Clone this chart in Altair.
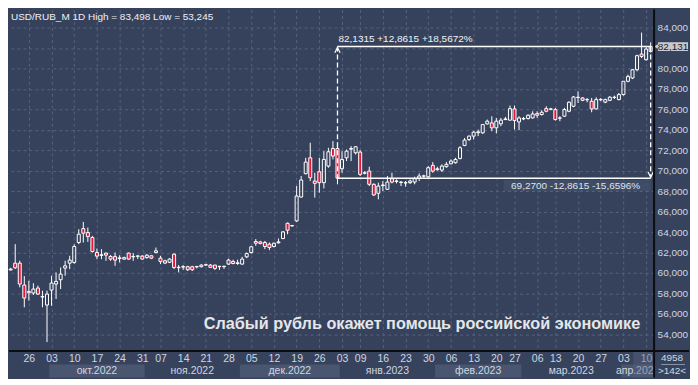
import altair as alt
import pandas as pd

# ---------------- data (trading-day index: -4 = 20.09.2022 ... 137 = 11.04.2023) ----------------
first_idx = -4
opens = [60.30, 60.96, 60.96, 58.82, 58.20, 58.04, 58.53, 57.65, 56.87, 58.33,
         58.92, 59.34, 60.48, 60.96, 61.03, 62.98, 64.34, 63.95, 63.47, 62.00,
         61.72, 61.94, 61.62, 61.60, 61.42, 61.36, 61.94, 61.58, 61.63, 61.65,
         61.52, 61.68, 62.00, 61.45, 60.97, 61.05, 61.84, 60.52, 60.58, 60.61,
         60.61, 60.60, 60.61, 60.78, 60.77, 60.77, 60.62, 60.62, 60.87, 61.13,
         60.93, 60.87, 61.58, 62.00, 63.08, 63.04, 62.98, 62.82, 62.59, 62.95,
         63.37, 64.86, 64.60, 65.09, 67.43, 69.71, 71.26, 68.99, 69.90, 68.83,
         70.45, 72.17, 72.17, 70.19, 71.26, 72.10, 71.75, 71.82, 69.75, 69.96,
         68.67, 67.79, 68.60, 68.18, 69.22, 69.00, 68.85, 68.80, 68.83, 68.89,
         69.25, 69.46, 69.41, 70.52, 70.10, 70.06, 70.39, 70.68, 70.78, 71.20,
         72.47, 73.05, 73.38, 73.80, 73.70, 74.58, 74.67, 74.19, 74.58, 75.00,
         74.94, 76.04, 74.77, 75.06, 75.10, 75.16, 75.58, 75.49, 76.07, 76.00,
         75.97, 75.13, 75.33, 75.81, 76.30, 77.15, 77.11, 76.93, 76.79, 76.04,
         76.93, 76.70, 76.88, 77.16, 76.95, 77.44, 78.74, 79.06, 79.87, 81.40,
         80.85, 81.66]
highs = [60.50, 62.82, 61.20, 59.70, 59.24, 59.00, 58.76, 58.27, 58.27, 59.73,
         60.06, 60.54, 61.19, 61.68, 62.80, 64.28, 64.99, 64.44, 63.63, 62.39,
         62.33, 62.00, 61.75, 62.00, 61.74, 61.60, 62.00, 61.94, 61.74, 61.74,
         61.84, 61.74, 62.49, 61.68, 61.30, 61.45, 61.90, 60.77, 60.77, 60.70,
         60.70, 60.70, 60.85, 60.90, 60.87, 60.80, 60.70, 60.70, 61.40, 61.30,
         61.30, 61.58, 62.00, 62.65, 63.32, 63.14, 63.14, 62.98, 62.98, 63.37,
         64.10, 64.93, 64.70, 68.50, 69.48, 71.26, 72.73, 69.80, 71.26, 71.91,
         72.24, 72.89, 72.73, 71.91, 72.07, 72.40, 72.40, 72.00, 69.96, 70.39,
         68.76, 68.83, 68.99, 69.48, 69.80, 69.15, 68.99, 68.99, 69.15, 69.41,
         69.74, 69.60, 70.45, 70.84, 70.39, 70.62, 70.84, 71.10, 71.26, 72.40,
         73.20, 73.44, 73.86, 74.02, 74.55, 75.00, 75.32, 75.16, 75.16, 75.26,
         76.37, 76.37, 75.32, 75.26, 75.50, 75.81, 75.81, 75.91, 76.30, 76.14,
         76.14, 75.33, 76.14, 76.79, 77.30, 77.76, 77.20, 77.11, 77.11, 77.18,
         77.10, 77.05, 77.30, 77.34, 77.60, 78.74, 79.39, 79.94, 81.34, 83.498,
         82.08, 82.54]
lows = [60.25, 60.40, 58.60, 56.65, 57.30, 57.85, 57.85, 56.65, 53.245, 56.80,
        57.46, 58.43, 59.73, 60.38, 60.90, 62.82, 62.98, 63.04, 62.00, 61.35,
        61.35, 61.19, 61.19, 60.70, 61.03, 61.30, 61.30, 61.19, 61.36, 61.30,
        61.40, 61.36, 61.94, 60.87, 60.87, 60.97, 60.38, 60.06, 60.30, 60.20,
        60.20, 60.45, 60.55, 60.70, 60.50, 60.30, 60.30, 60.40, 60.80, 60.85,
        60.80, 60.80, 61.45, 61.90, 62.65, 62.80, 62.33, 62.23, 62.50, 62.88,
        63.30, 63.79, 64.55, 64.99, 67.37, 69.64, 68.99, 67.37, 67.85, 68.27,
        70.29, 71.10, 68.67, 69.80, 70.94, 70.94, 71.59, 69.48, 69.64, 68.50,
        67.53, 67.20, 68.02, 68.11, 68.76, 68.76, 68.50, 68.44, 68.70, 68.67,
        68.99, 69.30, 69.30, 69.80, 70.00, 69.87, 70.29, 70.62, 70.70, 71.10,
        72.40, 72.89, 73.05, 73.38, 73.60, 74.51, 73.86, 73.64, 74.35, 74.94,
        74.90, 74.02, 73.96, 74.94, 75.00, 75.10, 75.16, 75.39, 75.71, 75.91,
        74.90, 74.84, 75.26, 75.71, 76.20, 76.62, 76.80, 76.69, 75.71, 75.97,
        76.80, 76.60, 76.80, 77.01, 76.88, 77.34, 78.64, 78.96, 79.71, 81.01,
        80.78, 81.56]
closes = [60.38, 60.51, 58.92, 57.55, 58.07, 58.43, 57.94, 57.70, 57.94, 59.02,
          59.18, 59.89, 60.70, 61.26, 62.59, 63.79, 63.89, 63.56, 62.10, 61.65,
          61.78, 61.75, 61.36, 61.26, 61.48, 61.50, 61.36, 61.62, 61.67, 61.36,
          61.74, 61.45, 62.17, 61.13, 61.19, 61.36, 60.54, 60.56, 60.62, 60.32,
          60.32, 60.63, 60.77, 60.81, 60.55, 60.45, 60.65, 60.66, 61.26, 60.93,
          61.00, 61.36, 61.90, 62.56, 62.91, 62.88, 62.59, 62.49, 62.91, 63.04,
          64.02, 64.18, 64.64, 67.53, 69.09, 70.84, 69.31, 68.76, 68.83, 71.10,
          71.85, 71.43, 69.27, 71.10, 71.91, 72.17, 72.34, 69.64, 69.80, 68.67,
          67.63, 68.50, 68.55, 68.89, 68.89, 68.95, 68.89, 68.83, 68.99, 69.22,
          69.48, 69.50, 70.29, 69.96, 70.19, 70.45, 70.62, 70.94, 71.10, 72.24,
          72.99, 73.38, 73.77, 73.72, 74.51, 74.84, 74.19, 74.84, 74.94, 75.06,
          76.07, 74.90, 75.16, 75.10, 75.42, 75.55, 75.42, 75.71, 75.81, 76.04,
          75.00, 75.16, 75.97, 76.69, 77.21, 77.18, 76.88, 76.95, 76.04, 76.95,
          76.97, 76.95, 77.18, 77.18, 77.44, 78.74, 79.20, 79.87, 81.24, 81.17,
          81.89, 82.131]

week_idx = [0, 5, 10, 15, 20, 25, 29, 34, 39, 44, 49, 54, 59, 64, 69, 73, 78, 83,
            88, 93, 98, 103, 107, 112, 116, 121, 126, 131, 136]
week_lbl = ["26", "03", "10", "17", "24", "31", "07", "14", "21", "28", "05", "12",
            "19", "26", "03", "09", "16", "23", "30", "06", "13", "20", "27", "06",
            "13", "20", "27", "03", "10"]

month_lbl = ["окт.2022", "ноя.2022", "дек.2022", "янв.2023", "фев.2023", "мар.2023", "апр.2023"]
month_start = [4.5, 25.5, 46.5, 68.5, 89.5, 108.5, 130.5]
month_end = [25.5, 46.5, 68.5, 89.5, 108.5, 130.5, 137.76]
month_shaded = [True, False, True, False, True, False, True]

price_ticks = [54, 56, 58, 60, 62, 64, 66, 68, 70, 72, 74, 76, 78, 80, 82, 84]

meas_start_idx = 68
meas_end_idx = 137
meas_high = 82.1315
meas_low = 69.27
meas_high_lbl = "82,1315 +12,8615 +18,5672%"
meas_low_lbl = "69,2700 -12,8615 -15,6596%"
last_price = 82.131
last_price_lbl = "82,131"

title_txt = "USD/RUB_M 1D High = 83,498 Low = 53,245"
headline = "Слабый рубль окажет помощь российской экономике"
headline_pos = (134.7, 55.0)
bars_total = ">142<"
volume_txt = "4958"

# ---------------- layout / style ----------------
W, H = 647, 342
TOTAL_W = 682
X_MIN, X_MAX = -4.373, 137.76
Y_MIN, Y_MAX = 52.42, 85.754
BG = "#37435d"
RED = "#e8163c"
TXT = "#cfd6e2"
FONT = "Liberation Sans"

idx = list(range(first_idx, first_idx + len(opens)))
df = pd.DataFrame(dict(i=idx, o=opens, h=highs, l=lows, c=closes))
df["top"] = df[["o", "c"]].max(axis=1)
df["bot"] = df[["o", "c"]].min(axis=1)
df["down"] = df["c"] < df["o"]

XS = alt.Scale(domain=[X_MIN, X_MAX], nice=False, zero=False, padding=0)
YS = alt.Scale(domain=[Y_MIN, Y_MAX], nice=False, zero=False, padding=0)
XA = alt.Axis(values=week_idx, labelExpr=f"{week_lbl}[indexof({week_idx}, datum.value)]",
              title=None, grid=True, ticks=False, domain=False, labelPadding=3,
              labelAngle=0, labelFlush=False, labelOverlap=False, labelBaseline="top")
YA = alt.Axis(orient="right", values=price_ticks,
              labelExpr="datum.value == 82 ? '' : replace(format(datum.value, '.3f'), '.', ',')",
              title=None, grid=True, ticks=False, domain=False, labelPadding=3,
              labelFontSize=10, labelFlush=False, labelOverlap=False)


def X(f):
    return alt.X(f, type="quantitative", scale=XS, axis=XA)


def Y(f):
    return alt.Y(f, type="quantitative", scale=YS, axis=YA)


wick_up = alt.Chart(df).mark_rule(color="white", strokeWidth=1).encode(
    x=X("i"), y=Y("h"), y2="top")
wick_dn = alt.Chart(df).mark_rule(color="white", strokeWidth=1).encode(
    x=X("i"), y=Y("bot"), y2="l")
body = alt.Chart(df).mark_bar(size=3, stroke="white", strokeWidth=1).encode(
    x=X("i"), y=Y("top"), y2="bot",
    fill=alt.condition("datum.down", alt.value(RED), alt.value("transparent")))

# measurement tool
mdf = pd.DataFrame(dict(x0=[meas_start_idx], x1=[meas_end_idx], hi=[meas_high], lo=[meas_low],
                        hl=[meas_high_lbl], ll=[meas_low_lbl]))
mbase = alt.Chart(mdf)
m_top = mbase.mark_rule(color="white", strokeWidth=1.5).encode(x=X("x0"), x2="x1", y=Y("hi"))
m_bot = mbase.mark_rule(color="white", strokeWidth=1.5).encode(x=X("x0"), x2="x1", y=Y("lo"))
m_v1 = mbase.mark_rule(color="white", strokeWidth=1.3, strokeDash=[5, 3]).encode(
    x=X("x0"), y=Y("hi"), y2="lo")
m_v2 = mbase.mark_rule(color="white", strokeWidth=1.3, strokeDash=[5, 3]).encode(
    x=X("x1"), y=Y("hi"), y2="lo")
m_arr1 = mbase.transform_calculate(ay="datum.hi - 0.35").mark_point(
    shape="M-1,1L0,-1L1,1", filled=False, stroke="white", strokeWidth=1.2, size=28, opacity=1).encode(
    x=X("x0"), y=Y("ay:Q"))
m_arr2 = mbase.transform_calculate(ay="datum.lo + 0.35").mark_point(
    shape="M-1,-1L0,1L1,-1", filled=False, stroke="white", strokeWidth=1.2, size=28, opacity=1).encode(
    x=X("x1"), y=Y("ay:Q"))
m_lbl1 = mbase.mark_text(align="left", baseline="bottom", dx=1, dy=-3, font=FONT, fontSize=10,
                         color="#f2f4f8").encode(x=X("x0"), y=Y("hi"), text="hl:N")
m_box = mbase.transform_calculate(bx0="104.6", by0="datum.lo - 0.18", by1="datum.lo - 1.25").mark_rect(
    color="#414d67", opacity=0.85).encode(x=X("bx0:Q"), x2="x1", y=Y("by0:Q"), y2="by1:Q")
m_lbl2 = mbase.transform_calculate(tx="134.7", ty="datum.lo - 0.72").mark_text(
    align="right", baseline="middle", font=FONT, fontSize=10, color="#dfe4ec").encode(
    x=X("tx:Q"), y=Y("ty:Q"), text="ll:N")

# last price marker on the right scale
pdf = pd.DataFrame(dict(p=[last_price], t=[last_price_lbl]))
pbase = alt.Chart(pdf).transform_calculate(p0="datum.p - 0.43", p1="datum.p + 0.43")
p_box = pbase.mark_rect(color="#c6cad2").encode(x=alt.value(651), x2=alt.value(681),
                                                 y=Y("p0:Q"), y2="p1:Q")
p_tri = pbase.mark_point(shape="triangle-left", filled=True, color="#c6cad2", size=36,
                         opacity=1).encode(x=alt.value(649.5), y=Y("p:Q"))
p_txt = pbase.mark_text(font=FONT, fontSize=10, color="#1c1c1c", align="center",
                        baseline="middle").encode(x=alt.value(666), y=Y("p:Q"), text="t:N")

# month strip below the day labels
mo = pd.DataFrame(dict(lbl=month_lbl, ms=month_start, me=month_end, sh=month_shaded))
mo["mid"] = (mo["ms"] + mo["me"]) / 2
mo_band = alt.Chart(mo).transform_filter("datum.sh").mark_rect(color="#4a5670").encode(
    x=X("ms"), x2="me", y=alt.value(356), y2=alt.value(369))
mo_txt = alt.Chart(mo).mark_text(font=FONT, fontSize=10.5, color=TXT, baseline="middle").encode(
    x=X("mid"), y=alt.value(362.5), text="lbl:N")

one = alt.Data(values=[{"a": 1}])
scroll_box = alt.Chart(one).mark_rect(color="#56627c", opacity=0.45).encode(
    x=alt.value(626), x2=alt.value(647), y=alt.value(343), y2=alt.value(369))
panel_cover = alt.Chart(one).mark_rect(color=BG).encode(
    x=alt.value(648), x2=alt.value(TOTAL_W), y=alt.value(343), y2=alt.value(369))
sep_v = alt.Chart(one).mark_rule(color="#0b0d12", strokeWidth=2).encode(
    x=alt.value(647), y=alt.value(0), y2=alt.value(369))
sep_h = alt.Chart(one).mark_rule(color="#0b0d12", strokeWidth=2).encode(
    x=alt.value(0), x2=alt.value(TOTAL_W), y=alt.value(342.5))
vol_line = alt.Chart(one).mark_rule(color="#8a94a6", strokeWidth=1).encode(
    x=alt.value(654), x2=alt.value(678), y=alt.value(356))
vol_txt = alt.Chart(one).mark_text(font=FONT, fontSize=10, color=TXT).encode(
    x=alt.value(665), y=alt.value(349), text=alt.value(volume_txt))
bars_txt = alt.Chart(one).mark_text(font=FONT, fontSize=10, color=TXT).encode(
    x=alt.value(665), y=alt.value(362.5), text=alt.value(bars_total))

title = alt.Chart(one).mark_text(font=FONT, fontSize=10, color="#eef0f4", align="left",
                                 baseline="middle").encode(
    x=alt.value(2), y=alt.value(7), text=alt.value(title_txt))
hdf = pd.DataFrame(dict(x=[headline_pos[0]], y=[headline_pos[1]], t=[headline]))
head = alt.Chart(hdf).mark_text(font=FONT, fontSize=16.3, fontWeight="bold", color="#e4e6ea",
                                align="right", baseline="middle").encode(
    x=X("x"), y=Y("y"), text="t:N")

chart = alt.layer(
    mo_band, mo_txt, scroll_box, panel_cover,
    m_box, m_lbl2,
    wick_up, wick_dn, body,
    m_top, m_bot, m_v1, m_v2, m_arr1, m_arr2, m_lbl1,
    p_tri, p_box, p_txt,
    sep_v, sep_h, vol_line, vol_txt, bars_txt,
    title, head,
).properties(width=W, height=H, padding=0, background=BG)

chart = chart.configure_axis(
    labelFont=FONT, labelFontSize=10.5, labelColor=TXT,
    gridColor="#56627c", gridDash=[3, 3], gridWidth=1, gridOpacity=1,
).configure_scale(continuousPadding=0)

grad = alt.Gradient(gradient="linear", x1=0, y1=0, x2=0, y2=1,
                    stops=[alt.GradientStop(color="#3e4a65", offset=0),
                           alt.GradientStop(color="#2e3a55", offset=1)])
try:
    c2 = chart.configure_view(stroke=None, fill=grad)
    c2.to_dict()
    chart = c2
except Exception:
    chart = chart.configure_view(stroke=None, fill="#36425c")

chart.save("out.html", embed_options={"renderer": "svg", "actions": False})
